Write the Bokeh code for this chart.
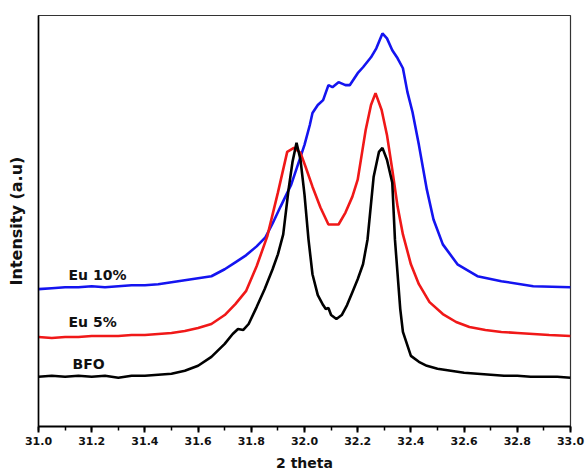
from bokeh.plotting import figure
from bokeh.models import Range1d, FixedTicker, Label
from bokeh.embed import file_html
from bokeh.resources import INLINE

# 2 theta positions and intensities (arbitrary units)
bfo_x = [31.00, 31.05, 31.10, 31.15, 31.20, 31.25, 31.30, 31.35, 31.40, 31.45, 31.50, 31.55, 31.60, 31.65,
         31.70, 31.73, 31.75, 31.77, 31.79, 31.82, 31.85, 31.88, 31.90, 31.92, 31.94, 31.955, 31.97, 31.985,
         32.00, 32.015, 32.03, 32.05, 32.07, 32.08, 32.09, 32.10, 32.12, 32.14, 32.16, 32.18, 32.20, 32.22,
         32.237, 32.26, 32.28, 32.293, 32.31, 32.33, 32.34, 32.36, 32.37, 32.40, 32.43, 32.46, 32.50, 32.55,
         32.60, 32.65, 32.70, 32.75, 32.80, 32.85, 32.90, 32.95, 33.00]
bfo_y = [50, 51, 50, 51, 50, 51, 49, 51, 51, 52, 53, 56, 61, 70,
         83, 93, 98, 97, 103, 120, 138, 158, 173, 193, 238, 266, 285, 268,
         233, 188, 153, 132, 122, 118, 119, 112, 108, 112, 122, 135, 148, 163,
         188, 251, 276, 280, 268, 245, 188, 118, 95, 71, 65, 61, 58, 56,
         54, 53, 52, 51, 51, 50, 50, 50, 49]

eu5_x = [31.00, 31.05, 31.10, 31.15, 31.20, 31.25, 31.30, 31.35, 31.40, 31.45, 31.50, 31.55, 31.60, 31.65,
         31.70, 31.74, 31.78, 31.82, 31.86, 31.90, 31.935, 31.96, 31.985, 32.004, 32.03, 32.06, 32.09, 32.11,
         32.128, 32.154, 32.18, 32.20, 32.218, 32.23, 32.25, 32.267, 32.29, 32.31, 32.33, 32.35, 32.37, 32.40,
         32.43, 32.47, 32.52, 32.57, 32.62, 32.68, 32.74, 32.80, 32.86, 32.92, 33.00]
eu5_y = [90, 89, 90, 90, 91, 91, 91, 92, 92, 93, 94, 96, 99, 103,
         112, 123, 136, 161, 191, 235, 276, 280, 275, 261, 241, 220, 203, 203,
         203, 215, 231, 248, 278, 298, 323, 335, 318, 293, 258, 221, 193, 163,
         143, 125, 113, 105, 100, 97, 95, 94, 93, 92, 91]

eu10_x = [31.00, 31.05, 31.10, 31.15, 31.20, 31.25, 31.30, 31.35, 31.40, 31.45, 31.50, 31.55, 31.60, 31.65,
          31.70, 31.74, 31.78, 31.82, 31.853, 31.88, 31.91, 31.95, 31.985, 32.00, 32.02, 32.03, 32.05, 32.07,
          32.09, 32.105, 32.128, 32.154, 32.17, 32.20, 32.22, 32.25, 32.27, 32.293, 32.31, 32.33, 32.35, 32.37,
          32.387, 32.406, 32.43, 32.46, 32.485, 32.52, 32.575, 32.65, 32.74, 32.86, 33.00]
eu10_y = [138, 139, 140, 140, 141, 140, 141, 142, 142, 143, 145, 147, 149, 151,
          158, 165, 172, 181, 190, 204, 221, 243, 271, 283, 303, 315, 323, 328,
          343, 341, 346, 343, 343, 355, 361, 371, 380, 395, 390, 378, 370, 360,
          336, 316, 283, 238, 208, 183, 163, 151, 146, 141, 140]

x_ticks = [31.0, 31.2, 31.4, 31.6, 31.8, 32.0, 32.2, 32.4, 32.6, 32.8, 33.0]
series_names = ["Eu 10%", "Eu 5%", "BFO"]
label_pos_x = [31.113, 31.113, 31.128]
label_pos_y = [152, 105, 63]

FONT = "DejaVu Sans"

p = figure(width=588, height=473, output_backend="svg", toolbar_location=None,
           x_range=Range1d(31.0, 33.0), y_range=Range1d(0, 413),
           min_border_left=38, min_border_right=18, min_border_top=15, min_border_bottom=45)
p.grid.visible = False
p.outline_line_color = "#333333"
p.outline_line_width = 1.2
p.background_fill_color = "white"
p.border_fill_color = "white"

lw = 2.6
p.line(eu10_x, eu10_y, line_color="#1414f0", line_width=lw)
p.line(eu5_x, eu5_y, line_color="#f01818", line_width=lw)
p.line(bfo_x, bfo_y, line_color="black", line_width=lw)

for name, lx, ly in zip(series_names, label_pos_x, label_pos_y):
    p.add_layout(Label(x=lx, y=ly, text=name, text_font=FONT, text_font_style="bold",
                       text_font_size="14px", text_color="#111111", text_baseline="middle"))

xa = p.xaxis[0]
xa.ticker = FixedTicker(ticks=x_ticks, minor_ticks=[31.0 + 0.1 * i for i in range(21)])
xa.major_label_overrides = {t: f"{t:.1f}" for t in x_ticks}
xa.axis_label = "2 theta"
xa.axis_label_text_font = FONT
xa.axis_label_text_font_style = "bold"
xa.axis_label_text_font_size = "14px"
xa.axis_label_text_color = "#111111"
xa.axis_label_standoff = 7
xa.major_label_text_font = FONT
xa.major_label_text_font_style = "bold"
xa.major_label_text_font_size = "11px"
xa.major_label_text_color = "#111111"
xa.major_label_standoff = 4
xa.major_tick_out = 6
xa.major_tick_in = 0
xa.minor_tick_out = 4
xa.minor_tick_in = 0
xa.axis_line_width = 2
xa.major_tick_line_width = 2
xa.minor_tick_line_width = 1.5

ya = p.yaxis[0]
ya.ticker = FixedTicker(ticks=[])
ya.major_tick_out = 0
ya.minor_tick_out = 0
ya.major_tick_in = 0
ya.minor_tick_in = 0
ya.major_label_standoff = 0
ya.axis_label = "Intensity (a.u)"
ya.axis_label_text_font = FONT
ya.axis_label_text_font_style = "bold"
ya.axis_label_text_font_size = "16px"
ya.axis_label_text_color = "#111111"
ya.axis_label_standoff = 13
ya.axis_line_width = 1.6

open("out.html", "w").write(file_html(p, INLINE))
